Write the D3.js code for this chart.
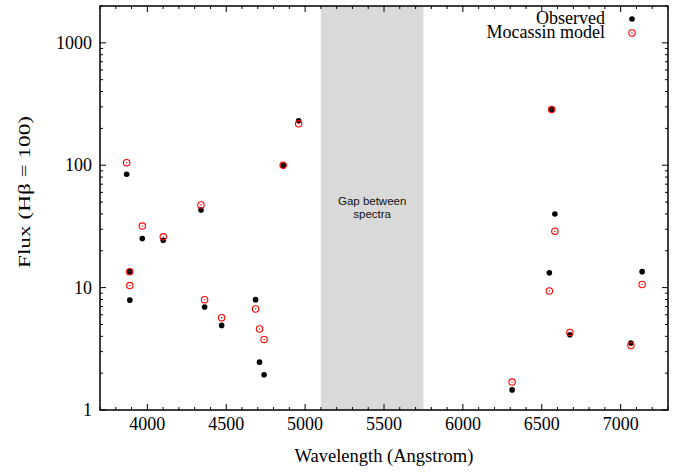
<!DOCTYPE html>
<html lang="en">
<head>
  <meta charset="UTF-8" />
  <title>Observed vs Mocassin model line fluxes</title>
  <script src="https://d3js.org/d3.v7.min.js"></script>
  <style>
    body { margin: 0; padding: 0; background: #fff; }
    .serif { font-family: "Liberation Serif", "Times New Roman", serif; fill: #000; }
    .gap-label { font-family: "Liberation Sans", Arial, sans-serif; font-size: 11.5px; fill: #111; }
  </style>
</head>
<body>
<div id="chart"></div>
<script>
  // ---- data ----
  const wavelengths = [3869, 3888, 3889, 3968, 4101, 4340, 4363, 4471, 4686, 4711, 4740,
                       4861, 4959, 6312, 6548, 6563, 6583, 6678, 7065, 7136];
  const observed    = [84.4, 13.5, 7.9, 25.2, 24.4, 43, 6.95, 4.91, 7.97, 2.46, 1.94,
                       100, 231, 1.46, 13.2, 285, 39.9, 4.12, 3.52, 13.5];
  const model       = [105, 13.5, 10.4, 31.8, 26, 47.3, 7.97, 5.68, 6.69, 4.59, 3.77,
                       100, 218, 1.69, 9.4, 285, 28.9, 4.30, 3.37, 10.6];
  const xTicks = [4000, 4500, 5000, 5500, 6000, 6500, 7000];
  const yTicks = [1, 10, 100, 1000];
  const gapRange = [5100, 5750];
  const seriesNames = ["Observed", "Mocassin model"];

  // ---- layout ----
  const width = 694, height = 473;
  const margin = { left: 100, right: 26, top: 6, bottom: 63 };
  const innerW = width - margin.left - margin.right;
  const innerH = height - margin.top - margin.bottom;

  const svg = d3.select("#chart").append("svg")
    .attr("width", width).attr("height", height);
  const g = svg.append("g").attr("transform", `translate(${margin.left},${margin.top})`);

  const x = d3.scaleLinear().domain([3700, 7300]).range([0, innerW]);
  const y = d3.scaleLog().domain([1, 2000]).range([innerH, 0]);

  // gap band
  g.append("rect")
    .attr("x", x(gapRange[0])).attr("y", 0)
    .attr("width", x(gapRange[1]) - x(gapRange[0])).attr("height", innerH)
    .attr("fill", "#d9d9d9");

  const gx = (x(gapRange[0]) + x(gapRange[1])) / 2;
  g.append("text").attr("class", "gap-label").attr("text-anchor", "middle")
    .attr("x", gx).attr("y", y(100) + 40).text("Gap between");
  g.append("text").attr("class", "gap-label").attr("text-anchor", "middle")
    .attr("x", gx).attr("y", y(100) + 52.5).text("spectra");

  // ticks (inward, mirrored on all four sides)
  const minorX = d3.range(3700, 7301, 100).filter(v => v % 500 !== 0);
  const minorY = [];
  [1, 10, 100, 1000].forEach(d => d3.range(2, 10).forEach(k => { if (d * k <= 2000) minorY.push(d * k); }));

  const tickG = g.append("g").attr("stroke", "#000").attr("stroke-width", 1);
  xTicks.forEach(v => {
    tickG.append("line").attr("x1", x(v)).attr("x2", x(v)).attr("y1", innerH).attr("y2", innerH - 6);
    tickG.append("line").attr("x1", x(v)).attr("x2", x(v)).attr("y1", 0).attr("y2", 6);
  });
  minorX.forEach(v => {
    tickG.append("line").attr("x1", x(v)).attr("x2", x(v)).attr("y1", innerH).attr("y2", innerH - 3);
    tickG.append("line").attr("x1", x(v)).attr("x2", x(v)).attr("y1", 0).attr("y2", 3);
  });
  yTicks.forEach(v => {
    tickG.append("line").attr("x1", 0).attr("x2", 6).attr("y1", y(v)).attr("y2", y(v));
    tickG.append("line").attr("x1", innerW).attr("x2", innerW - 6).attr("y1", y(v)).attr("y2", y(v));
  });
  minorY.forEach(v => {
    tickG.append("line").attr("x1", 0).attr("x2", 3).attr("y1", y(v)).attr("y2", y(v));
    tickG.append("line").attr("x1", innerW).attr("x2", innerW - 3).attr("y1", y(v)).attr("y2", y(v));
  });

  // frame
  g.append("rect").attr("width", innerW).attr("height", innerH)
    .attr("fill", "none").attr("stroke", "#000").attr("stroke-width", 1.5);

  // tick labels
  g.selectAll(".xlab").data(xTicks).enter().append("text")
    .attr("class", "serif").attr("font-size", 18).attr("text-anchor", "middle")
    .attr("x", d => x(d)).attr("y", innerH + 20).text(d => d);
  g.selectAll(".ylab").data(yTicks).enter().append("text")
    .attr("class", "serif").attr("font-size", 18).attr("text-anchor", "end")
    .attr("x", -8).attr("y", d => y(d) + 6).text(d => d);

  // axis titles
  svg.append("text").attr("class", "serif").attr("font-size", 18.5).attr("text-anchor", "middle")
    .attr("x", margin.left + innerW / 2).attr("y", 462).text("Wavelength (Angstrom)");
  svg.append("text").attr("class", "serif").attr("font-size", 17.5).attr("text-anchor", "middle")
    .attr("textLength", 152).attr("lengthAdjust", "spacingAndGlyphs")
    .attr("transform", "translate(30,192) rotate(-90)").text("Flux (H\u03b2 = 100)");

  // points
  const pts = wavelengths.map((w, i) => ({ w, obs: observed[i], mod: model[i] }));
  g.selectAll(".obs").data(pts).enter().append("circle")
    .attr("cx", d => x(d.w)).attr("cy", d => y(d.obs)).attr("r", 2.8).attr("fill", "#000");
  g.selectAll(".mod").data(pts).enter().append("circle")
    .attr("cx", d => x(d.w)).attr("cy", d => y(d.mod)).attr("r", 3.2)
    .attr("fill", "none").attr("stroke", "#f00").attr("stroke-width", 1.1);
  g.selectAll(".modc").data(pts).enter().append("circle")
    .attr("cx", d => x(d.w)).attr("cy", d => y(d.mod)).attr("r", 0.7).attr("fill", "#f00");

  // legend
  const leg = svg.append("g");
  seriesNames.forEach((name, i) => {
    const ly = 19 + i * 14.5;
    leg.append("text").attr("class", "serif").attr("font-size", 18).attr("text-anchor", "end")
      .attr("x", 605).attr("y", ly + 4.5).text(name);
  });
  leg.append("circle").attr("cx", 632).attr("cy", 19).attr("r", 2.8).attr("fill", "#000");
  leg.append("circle").attr("cx", 632).attr("cy", 33).attr("r", 3.2)
    .attr("fill", "none").attr("stroke", "#f00").attr("stroke-width", 1.1);
  leg.append("circle").attr("cx", 632).attr("cy", 33).attr("r", 0.7).attr("fill", "#f00");
</script>
</body>
</html>
